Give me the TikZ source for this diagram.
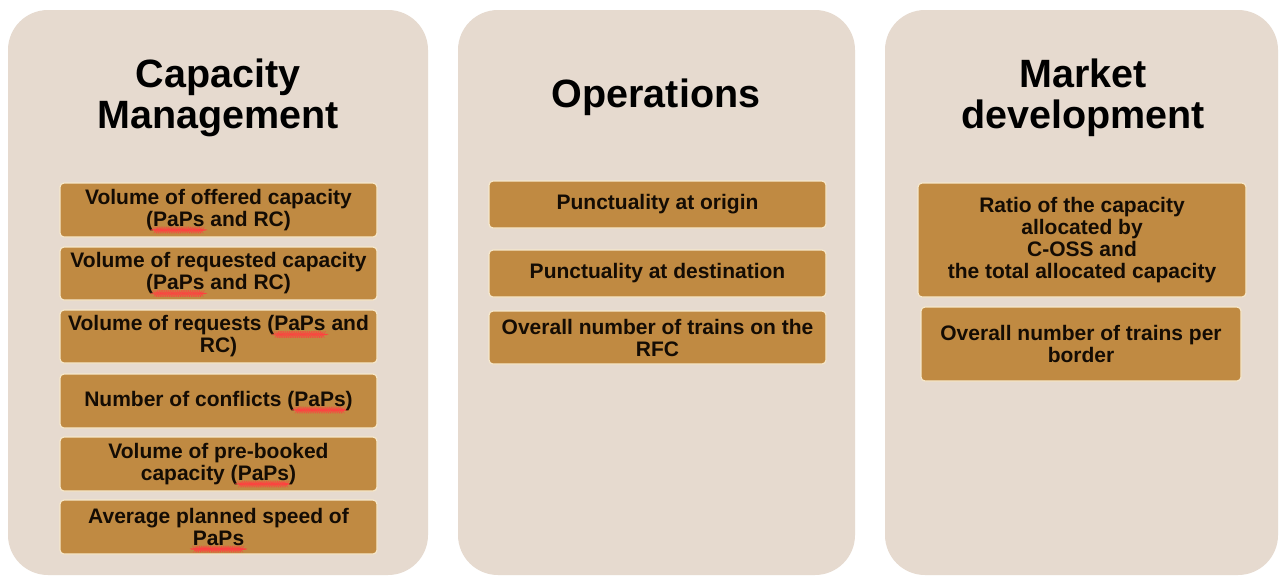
\documentclass[tikz,border=0pt]{standalone}
\usepackage{fontspec}
\setmainfont{Liberation Sans}
\usetikzlibrary{decorations.pathmorphing}
\newsavebox\ppbox
\newcommand\pp{\leavevmode\sbox\ppbox{PaPs}\rlap{\tikz[overlay]\draw[red!75!white, line width=0.35pt, decorate, decoration={snake, amplitude=0.5pt, segment length=2.2pt}] (0.5pt,-3.6pt) -- (\wd\ppbox,-3.6pt);}\usebox\ppbox}
\definecolor{panelc}{HTML}{E6DACF}
\definecolor{boxc}{HTML}{C08A42}
\definecolor{boxedge}{HTML}{F6E8CC}
\definecolor{boxtext}{HTML}{140C04}
\begin{document}
\begin{tikzpicture}[x=1pt,y=-1pt,
  panel/.style={fill=panelc, draw=none, rounded corners=40pt, inner sep=0pt, minimum height=565pt},
  kbox/.style={fill=boxc, draw=boxedge, line width=1.2pt, rounded corners=4pt, inner sep=0pt,
    align=center, text=boxtext, font=\bfseries\fontsize{21}{22}\selectfont},
  ttl/.style={align=center, text=black, font=\bfseries\fontsize{39.5}{41}\selectfont, inner sep=0pt}]
\useasboundingbox (0,0) rectangle (1279,576);
\fill[white] (0,0) rectangle (1279,576);
% panels
\node[panel, minimum width=420pt] (p1) at (218,292.5) {};
\node[panel, minimum width=397pt] (p2) at (656.5,292.5) {};
\node[panel, minimum width=393pt] (p3) at (1081.5,292.5) {};
% titles
\node[ttl] (t1) at (218,97.5) {Capacity\\Management};
\node[ttl, anchor=base] (t2) at (656,107) {Operations};
\node[ttl] (t3) at (1083,97.5) {Market\\development};
% capacity management boxes
\node[kbox, minimum width=317pt, minimum height=54pt] (a1) at (218.5,210) {Volume of offered capacity\\(\pp{} and RC)};
\node[kbox, minimum width=317pt, minimum height=53pt] (a2) at (218.5,273.5) {Volume of requested capacity\\(\pp{} and RC)};
\node[kbox, minimum width=317pt, minimum height=53pt] (a3) at (218.5,336.5) {Volume of requests (\pp{} and\\RC)};
\node[kbox, minimum width=317pt, minimum height=54pt] (a4) at (218.5,401) {Number of conflicts (\pp)};
\node[kbox, minimum width=317pt, minimum height=54pt] (a5) at (218.5,464) {Volume of pre-booked\\capacity (\pp)};
\node[kbox, minimum width=317pt, minimum height=54pt] (a6) at (218.5,527) {Average planned speed of\\\pp};
% operations boxes
\node[kbox, minimum width=337pt, minimum height=47pt] (b1) at (657.5,204.5) {Punctuality at origin};
\node[kbox, minimum width=337pt, minimum height=47pt] (b2) at (657.5,273.5) {Punctuality at destination};
\node[kbox, minimum width=337pt, minimum height=53pt] (b3) at (657.5,337.5) {Overall number of trains on the\\RFC};
% market development boxes
\node[kbox, minimum width=328pt, minimum height=114pt] (c1) at (1082,240) {Ratio of the capacity\\allocated by\\C-OSS and\\the total allocated capacity};
\node[kbox, minimum width=320pt, minimum height=74pt] (c2) at (1081,344) {Overall number of trains per\\border};
\end{tikzpicture}
\end{document}
